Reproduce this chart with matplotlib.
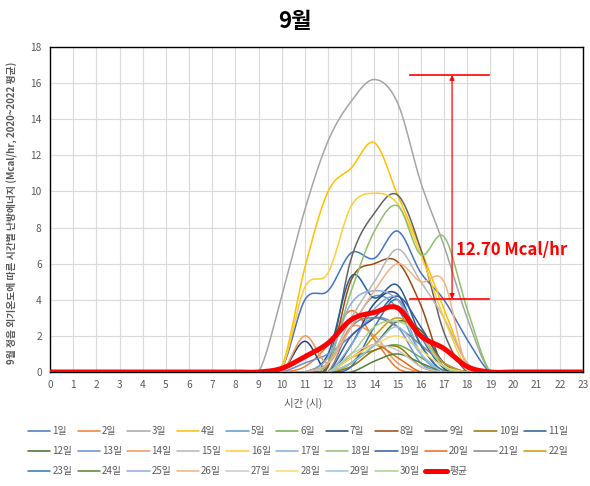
import numpy as np
import matplotlib
matplotlib.use("Agg")
import matplotlib.pyplot as plt

plt.rcParams['font.family'] = ['Noto Sans CJK KR', 'DejaVu Sans']

hours = list(range(24))
xticks = list(range(24))
yticks = list(range(0, 19, 2))

def pad(v):
    # values given for hours 9..19, zero elsewhere
    return [0.0] * 9 + list(v) + [0.0] * 4

day1 = pad([0, 0.2, 4.0, 4.5, 6.6, 6.3, 7.8, 5.5, 4.0, 1.8, 0])
day2 = pad([0, 0, 0.3, 1.5, 3.4, 1.8, 0.2, 0, 0, 0, 0])
day3 = pad([0, 4.2, 9.0, 12.8, 15.0, 16.2, 14.9, 10.5, 7.0, 3.0, 0])
day4 = pad([0, 0.3, 5.8, 10.0, 11.3, 12.7, 9.8, 6.8, 3.5, 0.5, 0])
day5 = pad([0, 0, 0, 0.5, 2.5, 4.2, 3.5, 1.0, 0, 0, 0])
day6 = pad([0, 0, 0, 0, 0.8, 1.2, 1.5, 0.8, 0.1, 0, 0])
day7 = pad([0, 0, 1.7, 0, 1.5, 3.8, 4.3, 1.5, 0, 0, 0])
day8 = pad([0, 0, 0, 0.3, 5.1, 6.0, 6.1, 3.7, 0.2, 0, 0])
day9 = pad([0, 0, 0, 0.5, 6.3, 8.8, 9.8, 6.8, 2.2, 0, 0])
day10 = pad([0, 0, 0, 0, 0.3, 1.2, 1.4, 0.3, 0, 0, 0])
day11 = pad([0, 0, 0, 1.0, 5.3, 4.1, 4.8, 2.0, 0.2, 0, 0])
day12 = pad([0, 0, 0, 0, 0.5, 1.5, 2.8, 2.3, 0.5, 0, 0])
day13 = pad([0, 0, 0.5, 1.0, 2.0, 3.0, 2.5, 0.5, 0, 0, 0])
day14 = pad([0, 0, 2.0, 0.5, 2.5, 2.0, 0.5, 0, 0, 0, 0])
day15 = pad([0, 0, 0, 0.5, 3.0, 5.0, 6.8, 5.0, 3.0, 0.5, 0])
day16 = pad([0, 0.2, 4.7, 5.5, 9.2, 9.9, 9.3, 6.5, 3.0, 0.2, 0])
day17 = pad([0, 0, 0, 0, 1.5, 3.5, 4.0, 1.0, 0, 0, 0])
day18 = pad([0, 0, 0, 0.5, 4.5, 7.8, 9.2, 6.5, 7.5, 3.5, 0])
day19 = pad([0, 0, 0, 0, 2.0, 3.0, 4.2, 2.5, 0.5, 0, 0])
day20 = pad([0, 0, 0, 0, 0.8, 1.5, 0.8, 0, 0, 0, 0])
day21 = pad([0, 0, 0, 0, 2.5, 3.0, 2.5, 1.5, 0.5, 0, 0])
day22 = pad([0, 0, 0, 0, 0.5, 2.0, 3.0, 2.0, 0.5, 0, 0])
day23 = pad([0, 0, 0, 0, 0.3, 2.5, 4.0, 1.5, 0, 0, 0])
day24 = pad([0, 0, 0, 0, 0, 0.6, 1.0, 0.5, 0, 0, 0])
day25 = pad([0, 0, 0, 0.8, 3.8, 4.5, 4.0, 2.0, 0.3, 0, 0])
day26 = pad([0, 0, 0, 0.5, 2.5, 4.5, 6.0, 5.0, 5.0, 0.2, 0])
day27 = pad([0, 0, 0, 0, 1.0, 1.5, 1.2, 0.3, 0, 0, 0])
day28 = pad([0, 0, 0, 0, 0.8, 1.5, 2.0, 1.2, 0.3, 0, 0])
day29 = pad([0, 0, 0, 0, 0.5, 1.5, 2.5, 1.0, 0, 0, 0])
day30 = pad([0, 0, 0, 0, 1.0, 2.5, 2.8, 2.0, 0.3, 0, 0])
average = pad([0, 0.2, 0.85, 1.6, 2.9, 3.3, 3.55, 2.0, 1.3, 0.3, 0])

days = [day1, day2, day3, day4, day5, day6, day7, day8, day9, day10,
        day11, day12, day13, day14, day15, day16, day17, day18, day19, day20,
        day21, day22, day23, day24, day25, day26, day27, day28, day29, day30]
day_labels = [f"{i}일" for i in range(1, 31)]
avg_label = "평균"

colors = ["#4472C4", "#ED7D31", "#A5A5A5", "#FFC000", "#5B9BD5", "#70AD47",
          "#264478", "#9E480E", "#636363", "#997300", "#255E91", "#43682B",
          "#698ED0", "#F1975A", "#B7B7B7", "#FFCD33", "#7CAFDD", "#8CC168",
          "#335AA1", "#E2691A", "#848484", "#CC9A00", "#2E75B6", "#548235",
          "#8FAADC", "#F4B183", "#C9C9C9", "#FFD966", "#9DC3E6", "#A9D18E"]

gap_top = 16.45
gap_bottom = 4.05
gap_text = "12.70 Mcal/hr"


def smooth(x, y, n=20):
    x = np.asarray(x, float)
    y = np.asarray(y, float)
    xs, ys = [], []
    m = len(x)
    for i in range(m - 1):
        p0 = (x[i - 1], y[i - 1]) if i > 0 else (x[i], y[i])
        p1 = (x[i], y[i])
        p2 = (x[i + 1], y[i + 1])
        p3 = (x[i + 2], y[i + 2]) if i + 2 < m else (x[i + 1], y[i + 1])
        c1 = (p1[0] + (p2[0] - p0[0]) / 6, p1[1] + (p2[1] - p0[1]) / 6)
        c2 = (p2[0] - (p3[0] - p1[0]) / 6, p2[1] - (p3[1] - p1[1]) / 6)
        t = np.linspace(0, 1, n, endpoint=(i == m - 2))
        a = (1 - t) ** 3
        b = 3 * (1 - t) ** 2 * t
        c = 3 * (1 - t) * t ** 2
        d = t ** 3
        xs.append(a * p1[0] + b * c1[0] + c * c2[0] + d * p2[0])
        ys.append(a * p1[1] + b * c1[1] + c * c2[1] + d * p2[1])
    return np.concatenate(xs), np.concatenate(ys)


fig = plt.figure(figsize=(5.9, 4.86), dpi=100)
ax = fig.add_axes([50 / 590, 1 - 372 / 486, 533 / 590, 325 / 486])

handles = []
for vals, lab, col in zip(days, day_labels, colors):
    sx, sy = smooth(hours, vals)
    ln, = ax.plot(sx, sy, color=col, lw=1.1, label=lab, solid_capstyle='round')
    handles.append(ln)
sx, sy = smooth(hours, average)
ln, = ax.plot(sx, sy, color="#FF0000", lw=3.6, label=avg_label, zorder=5,
              solid_capstyle='round')
handles.append(ln)

ax.set_xlim(0, 23)
ax.set_ylim(0, 18)
ax.set_xticks(xticks)
ax.set_yticks(yticks)
ax.tick_params(length=0, labelsize=7.3, colors="#595959", pad=6)
ax.grid(True, color="#D9D9D9", lw=0.8)
ax.set_axisbelow(True)
for s in ax.spines.values():
    s.set_color("black")
    s.set_linewidth(1.0)

# annotation
ax.plot([15.55, 18.95], [gap_top, gap_top], color="#FF0000", lw=1.2)
ax.plot([15.55, 18.95], [gap_bottom, gap_bottom], color="#FF0000", lw=1.2)
ax.annotate("", xy=(17.35, gap_top), xytext=(17.35, gap_bottom),
            arrowprops=dict(arrowstyle="<|-|>", color="#FF0000", lw=0.9,
                            mutation_scale=7, shrinkA=0, shrinkB=0))
ax.text(17.5, 6.75, gap_text, color="#FF0000", fontsize=12, fontweight="bold",
        ha="left", va="center")

fig.text(0.5, 1 - 22 / 486, "9월", fontsize=16, fontweight="bold", ha="center", va="center")
fig.text(303 / 590, 1 - 403 / 486, "시간 (시)", fontsize=7.5, color="#595959",
         ha="center", va="center")
fig.text(12 / 590, 1 - 213 / 486,
         "9월 정읍 외기온도에 따른 시간별 난방에너지 (Mcal/hr, 2020~2022 평균)",
         fontsize=7, color="#595959", rotation=90, ha="center", va="center",
         fontweight="bold")

# legend, row-major order
ncol = 11
n = len(handles)
order = []
for c in range(ncol):
    r = 0
    while r * ncol + c < n:
        order.append(r * ncol + c)
        r += 1
leg = fig.legend([handles[i] for i in order], [handles[i].get_label() for i in order],
                 ncol=ncol, loc="upper left", bbox_to_anchor=(28 / 590, 1 - 426 / 486),
                 frameon=False, fontsize=7, handlelength=2.3, handletextpad=0.2,
                 columnspacing=0.55, labelspacing=1.05, borderpad=0, borderaxespad=0)
for t in leg.get_texts():
    t.set_color("#595959")

fig.savefig("out.png", dpi=100)
